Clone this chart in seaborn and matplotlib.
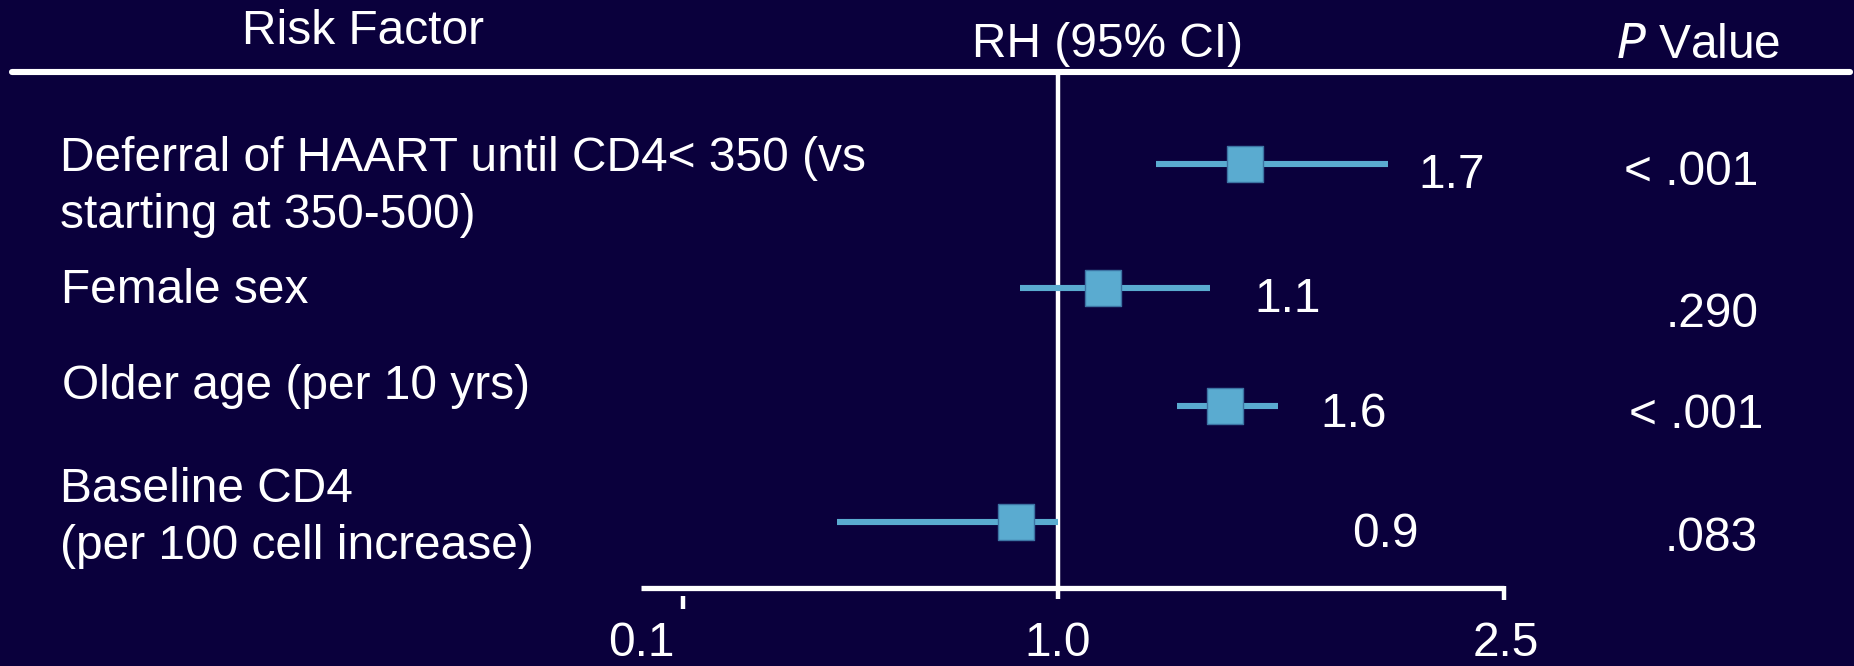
import numpy as np
import pandas as pd
import matplotlib
matplotlib.use("Agg")
import matplotlib.pyplot as plt
import seaborn as sns

# ---------------- data ----------------
factors = ["Deferral of HAART until CD4< 350 (vs\nstarting at 350-500)",
           "Female sex",
           "Older age (per 10 yrs)",
           "Baseline CD4\n(per 100 cell increase)"]
rh_est = [1.63, 1.15, 1.56, 0.90]
ci_low = [1.33, 0.91, 1.40, 0.47]
ci_high = [2.11, 1.51, 1.74, 1.00]
rh_labels = ["1.7", "1.1", "1.6", "0.9"]
p_values = ["< .001", ".290", "< .001", ".083"]
tick_values = [0.1, 1.0, 2.5]
tick_labels = ["0.1", "1.0", "2.5"]

# ---------------- style ----------------
BG = "#0a003c"
FG = "white"
MARK = "#5aabd0"
EDGE = "#3c73a3"
FS = 34.5

sns.set_style("white")
plt.rcParams["font.family"] = ["Liberation Sans", "DejaVu Sans"]

W, H = 1854, 666
fig = plt.figure(figsize=(W / 100, H / 100), dpi=100, facecolor=BG)
ax = fig.add_axes([0, 0, 1, 1])
ax.set_facecolor(BG)

# drawn RH axis: linear 0..1 on the left part, wider units 1..2.5 on the right
X0, X1, X25 = 641.0, 1058.0, 1504.0
k_left = X1 - X0
k_right = (X25 - X1) / 1.5


def fwd(x):
    x = np.asarray(x, dtype=float)
    return np.where(x <= 1.0, X0 + k_left * x, X1 + (x - 1.0) * k_right)


def inv(p):
    p = np.asarray(p, dtype=float)
    return np.where(p <= X1, (p - X0) / k_left, 1.0 + (p - X1) / k_right)


ax.set_xscale("function", functions=(fwd, inv))
ax.set_xlim(float(inv(0.0)), float(inv(W)))
ax.set_ylim(H, 0)
ax.axis("off")

# layout rows (pixel-like units from top)
row_y = [164, 288, 406, 522]
label_base = [[171, 228], [303], [399], [502, 559]]
label_x = [60, 61, 62, 60]
val_base = [188, 312, 427, 547]
val_x = [1418, 1254, 1320, 1352]
p_base = [185, 327, 428, 551]
p_right = [1758, 1759, 1763, 1758]

df = pd.DataFrame({"factor": factors, "rh": rh_est, "lo": ci_low,
                   "hi": ci_high, "y": row_y})

# header line and reference line
ax.axhline(72, xmin=12 / W, xmax=1850 / W, color=FG, lw=4.4, zorder=1)
ax.vlines(1.0, 72, 599, color=FG, lw=3.2, zorder=1)

# CI whiskers + squares
ax.hlines(df["y"], df["lo"], df["hi"], color=MARK, lw=4.4, zorder=2)
sns.scatterplot(data=df, x="rh", y="y", marker="s", s=640, color=MARK,
                edgecolor=EDGE, linewidth=1.0, zorder=3, ax=ax, legend=False)
ax.set_xlabel("")
ax.set_ylabel("")
ax.axis("off")

# bottom axis
ax.hlines(588, 0.0, 2.5, color=FG, lw=3.8, zorder=1)
ax.vlines(2.5, 586, 600, color=FG, lw=3.2, zorder=1)
ax.vlines(0.1, 596, 609, color=FG, lw=3.2, zorder=1)
tick_label_x = [0.0, 1.0, 2.505]
for tx, tl in zip(tick_label_x, tick_labels):
    ax.text(tx, 656, tl, color=FG, fontsize=FS, ha="center", va="baseline")

# headers
ax.text(float(inv(363)), 44, "Risk Factor", color=FG, fontsize=FS,
        ha="center", va="baseline")
ax.text(float(inv(1108)), 57, "RH (95% CI)", color=FG, fontsize=FS,
        ha="center", va="baseline")
ax.text(float(inv(1698)), 58, r"$\it{P}$ Value", color=FG, fontsize=FS,
        ha="center", va="baseline")

# row labels
for lab, bases, lx in zip(factors, label_base, label_x):
    for line, b in zip(lab.split("\n"), bases):
        ax.text(float(inv(lx)), b, line, color=FG, fontsize=FS,
                ha="left", va="baseline")

# RH values and P values
for v, b, vx in zip(rh_labels, val_base, val_x):
    ax.text(float(inv(vx)), b, v, color=FG, fontsize=FS, ha="left",
            va="baseline")
for pv, b, pr in zip(p_values, p_base, p_right):
    ax.text(float(inv(pr)), b, pv, color=FG, fontsize=FS, ha="right",
            va="baseline")

fig.savefig("out.png", dpi=100, facecolor=BG)
